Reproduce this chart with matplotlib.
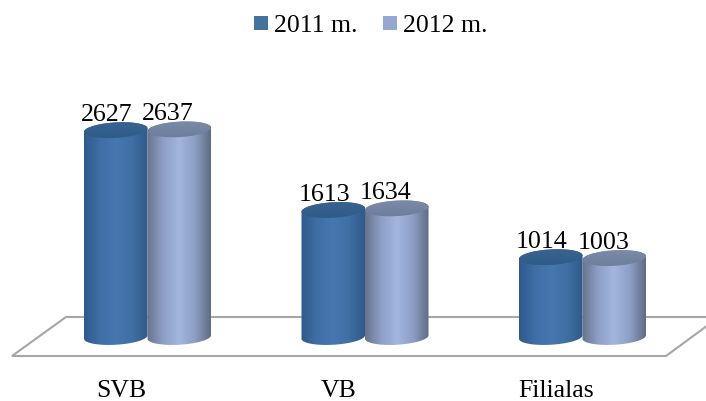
import numpy as np
import matplotlib
matplotlib.use('Agg')
import matplotlib.pyplot as plt
from matplotlib.colors import LinearSegmentedColormap
from matplotlib.patches import Polygon, Rectangle

categories = ['SVB', 'VB', 'Filialas']
series_names = ['2011 m.', '2012 m.']
values_2011 = [2627, 1613, 1014]
values_2012 = [2637, 1634, 1003]

W, H = 706, 401
plt.rcParams['font.family'] = ['Liberation Serif', 'DejaVu Serif']

fig = plt.figure(figsize=(W / 100, H / 100), dpi=100)
ax = fig.add_axes([0, 0, 1, 1])

# one category = 217.5 px, one px = 12.7 units, baseline at py 337
x_unit = 217.5
y_unit = 12.7
xlim = (-147.5 / x_unit, (W - 147.5) / x_unit)
ylim = (-(H - 337) * y_unit, 337 * y_unit)
bar_w = 63.5 / x_unit
cap_h = 15.5 * y_unit
tilt = 3.5 * y_unit / bar_w  # caps lean up to the right

dark = LinearSegmentedColormap.from_list('d', ['#2f5a8c', '#3f6fa6', '#4877b0', '#3f6fa4', '#2f5a8a'])
light = LinearSegmentedColormap.from_list('l', ['#67748c', '#8d9fc6', '#a2b6de', '#8e9fc6', '#5f6c84'])
cap_dark = LinearSegmentedColormap.from_list('cd', ['#3a6390', '#2f5a88'])
cap_light = LinearSegmentedColormap.from_list('cl', ['#7b8ba8', '#6c7d9b'])


def px(x, y):
    # pixel position from the top left, as axes fraction
    return x / W, 1 - y / H


def arc(xc, yc, t0, t1):
    t = np.linspace(t0, t1, 60)
    xs = xc + bar_w / 2 * np.cos(t)
    ys = yc + cap_h / 2 * np.sin(t) + tilt * (xs - xc)
    return np.column_stack([xs, ys])


# floor
floor = Polygon([px(12, 356), px(66, 317), px(719, 317), px(666, 356)], closed=True,
                transform=ax.transAxes, facecolor='white', edgecolor='#a6a6a6', lw=1.5, zorder=1)
ax.add_patch(floor)


def cylinder(xc, val, cmap, cap_cmap, z):
    l, r = xc - bar_w / 2, xc + bar_w / 2
    spread = cap_h / 2 + tilt * bar_w / 2
    body = np.vstack([arc(xc, 0, np.pi, 2 * np.pi), arc(xc, val, 0, np.pi)])
    clip = Polygon(body, closed=True, transform=ax.transData, fc='none', ec='none')
    ax.add_patch(clip)
    im = ax.imshow(np.linspace(0, 1, 128).reshape(1, -1), cmap=cmap, aspect='auto',
                   extent=(l, r, -spread, val + spread), zorder=z, interpolation='bilinear')
    im.set_clip_path(clip)
    cap = Polygon(arc(xc, val, 0, 2 * np.pi), closed=True, transform=ax.transData, fc='none', ec='none')
    ax.add_patch(cap)
    im2 = ax.imshow(np.linspace(0, 1, 64).reshape(-1, 1), cmap=cap_cmap, aspect='auto',
                    extent=(l, r, val - spread, val + spread), zorder=z + 0.1, interpolation='bilinear')
    im2.set_clip_path(cap)


for i, cat in enumerate(categories):
    cylinder(i - bar_w / 2, values_2011[i], dark, cap_dark, 2)
    cylinder(i + bar_w / 2, values_2012[i], light, cap_light, 3)
    ax.text(i - bar_w / 2 - 9 / x_unit, values_2011[i] + 9 * y_unit, str(values_2011[i]), ha='center',
            va='baseline', fontsize=18.7, color='black', zorder=5)
    ax.text(i + bar_w / 2 - 11 / x_unit, values_2012[i] + 9.5 * y_unit, str(values_2012[i]), ha='center',
            va='baseline', fontsize=18.7, color='black', zorder=5)
    ax.text(i - 26 / x_unit, -(397 - 337) * y_unit, cat, ha='center', va='baseline',
            fontsize=18.5, color='black')

# legend
for name, col, bx, tx in zip(series_names, ['#44729f', '#94a8d0'], [254, 383], [274, 403]):
    ax.add_patch(Rectangle(px(bx, 30), 14 / W, 14 / H, transform=ax.transAxes, fc=col, ec='none'))
    ax.text(*px(tx, 32), name, transform=ax.transAxes, ha='left', va='baseline', fontsize=18.5, color='black')

ax.set_xlim(*xlim)
ax.set_ylim(*ylim)
ax.axis('off')
fig.savefig('out.png', dpi=100)
